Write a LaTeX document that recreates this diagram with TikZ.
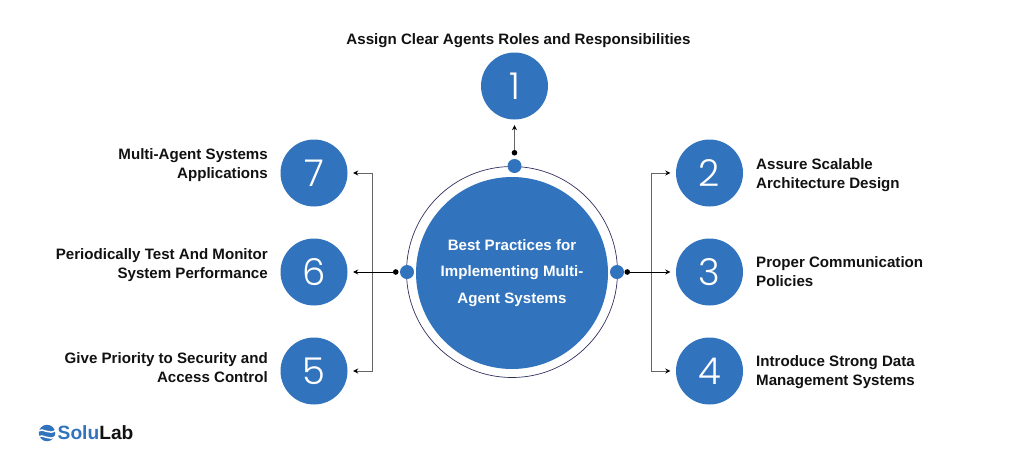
\documentclass[tikz,border=0pt]{standalone}
\usepackage{fontspec}
\setmainfont{Liberation Sans}
\newfontfamily\digitfont[UprightFont=* Light]{Poppins}
\usetikzlibrary{arrows.meta}
\definecolor{bluefill}{HTML}{3273BD}
\definecolor{ringc}{HTML}{2F2F5F}
\definecolor{inkc}{HTML}{111111}
\definecolor{stemc}{HTML}{666666}
\tikzset{
 num/.style={circle,fill=bluefill,minimum size=67pt,inner sep=0pt,text=white,font=\digitfont\fontsize{37}{37}\selectfont},
 port/.style={circle,fill=bluefill,minimum size=14pt,inner sep=0pt},
 lab/.style={font=\bfseries\fontsize{15.1}{19}\selectfont,text=inkc,inner sep=0pt},
 labr/.style={lab,align=left,anchor=west},
 labl/.style={lab,align=right,anchor=east},
 conn/.style={line width=0.95pt,draw=stemc,-{Stealth[length=5pt,width=5pt,color=black]}},
 main/.style={line width=0.9pt,draw=black,{Circle[length=5.5pt]}-{Stealth[length=5pt,width=5pt]}},
}
\begin{document}
\begin{tikzpicture}[x=1pt,y=-1pt]
\useasboundingbox (0,0) rectangle (1024,464);
\node[circle,draw=ringc,line width=0.7pt,minimum size=211pt,inner sep=0pt] (ring) at (512,272) {};
\node[circle,fill=bluefill,minimum size=192pt,inner sep=0pt,text=white,align=center,font=\bfseries\fontsize{15.1}{26.5}\selectfont] (hub) at (512,273) {Best Practices for\\Implementing Multi-\\Agent Systems};
\node[port] (pt) at (514.5,166) {};
\node[port] (pl) at (407,272) {};
\node[port] (pr) at (617,272) {};
\node[num] (n1) at (514.5,86) {1};
\node[num] (n2) at (709.5,173) {2};
\node[num] (n3) at (709.5,272) {3};
\node[num] (n4) at (709.5,371) {4};
\node[num] (n5) at (314,371) {5};
\node[num] (n6) at (314,272) {6};
\node[num] (n7) at (314,173) {7};
\node[lab] (t1) at (518.5,41) {Assign Clear Agents Roles and Responsibilities};
\node[labr] (t2) at (756,175.5) {Assure Scalable\\Architecture Design};
\node[labr] (t3) at (756,271.5) {Proper Communication\\Policies};
\node[labr] (t4) at (756,372.5) {Introduce Strong Data\\Management Systems};
\node[labl] (t5) at (268,367.5) {Give Priority to Security and\\Access Control};
\node[labl] (t6) at (268,265.5) {Periodically Test And Monitor\\System Performance};
\node[labl] (t7) at (268,165.5) {Multi-Agent Systems\\Applications};
% connectors
\coordinate (rs) at (624.5,272);
\coordinate (ls) at (398.5,272);
\coordinate (ts) at (514.5,155.5);
\coordinate (rb) at (651,272);
\coordinate (lb) at (372,272);
\draw[conn] (rb) -- (rb |- n2) -- ([xshift=-5.5pt]n2.west);
\draw[conn] (rb) -- (rb |- n4) -- ([xshift=-5.5pt]n4.west);
\draw[conn] (lb) -- (lb |- n7) -- ([xshift=5.5pt]n7.east);
\draw[conn] (lb) -- (lb |- n5) -- ([xshift=5.5pt]n5.east);
\draw[main] (rs) -- ([xshift=-5.5pt]n3.west);
\draw[main] (ls) -- ([xshift=5.5pt]n6.east);
\draw[line width=1.2pt,draw=stemc,{Circle[length=5.5pt,color=black]}-{Stealth[length=5pt,width=5pt,color=black]}] (ts) -- ([yshift=-5.5pt]n1.south);
% logo
\node[circle,fill=bluefill,minimum size=16.5pt,inner sep=0pt] (logoball) at (47,433) {};
\draw[white,line width=1.5pt] (38,431) .. controls (43,427) and (49,436) .. (56,430);
\draw[white,line width=1.5pt] (38,437) .. controls (43,433) and (49,442) .. (56,436);
\node[anchor=west,inner sep=0pt,font=\bfseries\fontsize{19.2}{20}\selectfont] (logotext) at (57.5,433) {\textcolor{bluefill}{Solu}\textcolor{inkc}{Lab}};
\end{tikzpicture}
\end{document}
